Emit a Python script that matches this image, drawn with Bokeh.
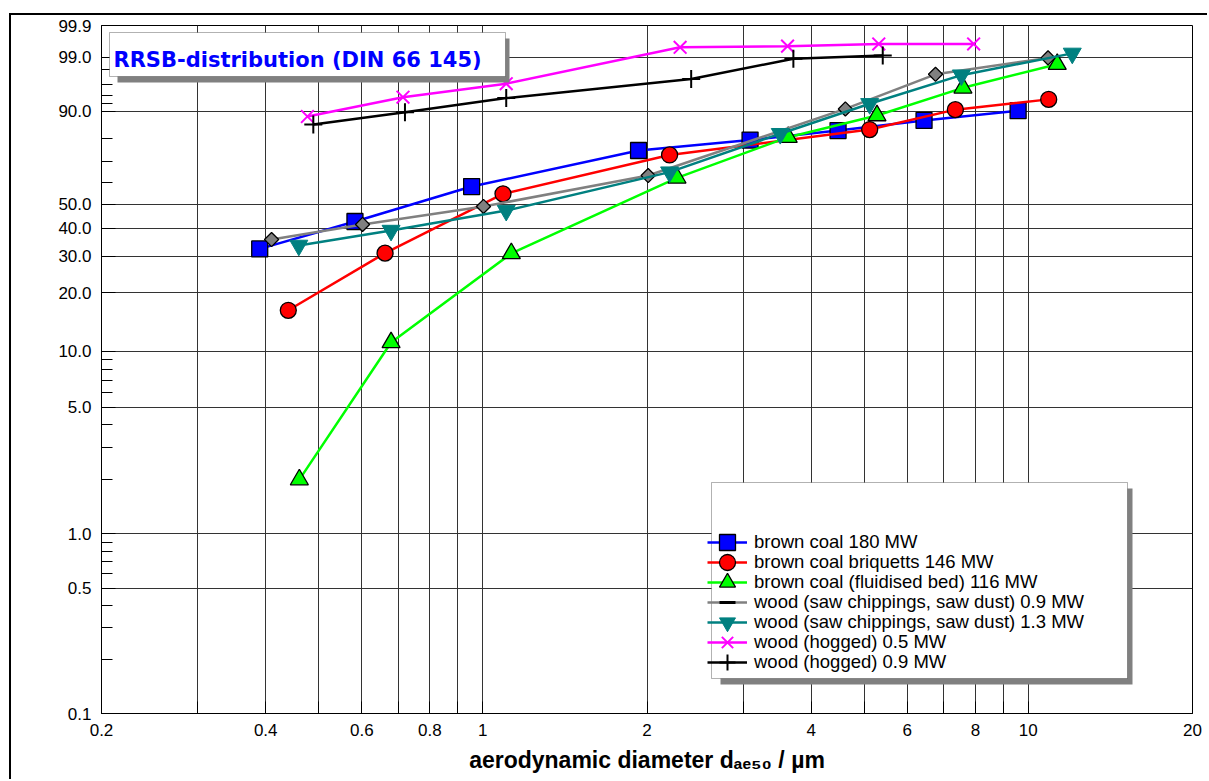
import math
import numpy as np
from bokeh.plotting import figure
from bokeh.models import (Range1d, FixedTicker, CustomJSTickFormatter, BoxAnnotation,
                          Label, Legend, LegendItem)
from bokeh.embed import file_html
from bokeh.resources import INLINE

# ---------------- data (aerodynamic diameter in µm, cumulative fraction in %) -------------
bc180_d = [0.390, 0.583, 0.954, 1.93, 3.09, 4.48, 6.44, 9.58]
bc180_F = [32.4, 42.7, 58.2, 75.0, 79.5, 83.3, 87.0, 90.1]

bri146_d = [0.440, 0.662, 1.089, 2.20, 5.12, 7.35, 10.9]
bri146_F = [16.3, 31.0, 54.8, 73.0, 83.7, 90.4, 93.1]

fb116_d = [0.461, 0.679, 1.128, 2.27, 3.63, 5.28, 7.59, 11.3]
fb116_F = [2.0, 11.1, 30.9, 62.3, 80.7, 88.6, 95.5, 98.5]

saw09_d = [0.410, 0.602, 1.003, 2.01, 4.62, 6.76, 10.87]
saw09_F = [35.7, 41.5, 49.1, 63.4, 90.6, 97.5, 98.95]

saw13_d = [0.460, 0.679, 1.104, 2.20, 3.51, 5.12, 7.54, 12.04]
saw13_F = [33.6, 39.1, 47.3, 65.0, 82.1, 92.0, 97.4, 99.2]

hog05_d = [0.477, 0.714, 1.104, 2.30, 3.62, 5.32, 7.94]
hog05_F = [88.3, 93.6, 96.2, 99.46, 99.50, 99.57, 99.57]

hog09_d = [0.489, 0.720, 1.104, 2.41, 3.71, 5.41]
hog09_F = [85.6, 89.6, 93.4, 96.9, 98.9, 99.09]

labels = [
    "brown coal 180 MW",
    "brown coal briquetts 146 MW",
    "brown coal (fluidised bed) 116 MW",
    "wood (saw chippings, saw dust) 0.9 MW",
    "wood (saw chippings, saw dust) 1.3 MW",
    "wood (hogged) 0.5 MW",
    "wood (hogged) 0.9 MW",
]

x_ticks = [0.2, 0.3, 0.4, 0.5, 0.6, 0.7, 0.8, 0.9, 1, 2, 3, 4, 5, 6, 7, 8, 9, 10, 20]
x_tick_labels = [0.2, 0.4, 0.6, 0.8, 1, 2, 4, 6, 8, 10, 20]
x_grid = [0.3, 0.4, 0.5, 0.6, 0.7, 0.8, 0.9, 1, 2, 3, 4, 5, 6, 7, 8, 9, 10]
y_label_F = [0.1, 0.5, 1.0, 5.0, 10.0, 20.0, 30.0, 40.0, 50.0, 90.0, 99.0, 99.9]
y_minor_F = [0.2, 0.3, 0.4, 0.6, 0.7, 0.8, 0.9, 2, 3, 4, 6, 7, 8, 9, 60, 70, 80, 92, 94, 96, 98]
y_grid_F = [0.5, 1.0, 5.0, 10.0, 20.0, 30.0, 40.0, 50.0, 90.0, 99.0]


def rrsb(F):
    """RRSB (Weibull) probability scale: log10(-ln(1 - F))."""
    return [math.log10(-math.log(1.0 - f / 100.0)) for f in F]


p = figure(width=1198, height=766, x_axis_type="log",
           x_range=Range1d(0.2, 20),
           y_range=Range1d(rrsb([0.1])[0], rrsb([99.9])[0]),
           output_backend="svg", toolbar_location=None,
           min_border_left=90, min_border_right=17, min_border_top=10, min_border_bottom=68)
p.margin = (13, 0, 0, 9)
p.styles = {"border-left": "2px solid black", "border-top": "2px solid black"}
p.background_fill_color = "white"
p.border_fill_color = "white"
p.outline_line_color = "black"
p.outline_line_width = 1

# grid
p.xgrid.ticker = FixedTicker(ticks=x_grid)
p.ygrid.ticker = FixedTicker(ticks=rrsb(y_grid_F))
for g in (p.xgrid, p.ygrid):
    g.grid_line_color = "#333333"
    g.grid_line_width = 1

# axes
xa = p.xaxis[0]
xa.ticker = FixedTicker(ticks=x_ticks)
xa.formatter = CustomJSTickFormatter(args=dict(show=x_tick_labels), code="""
for (const s of show) { if (Math.abs(s - tick) < 1e-9) return String(s); }
return "";
""")
xa.major_tick_in = 12
xa.major_tick_out = 0
xa.minor_tick_in = 0
xa.minor_tick_out = 0
xa.major_label_standoff = 10
xa.axis_label = "aerodynamic diameter d\u2090\u2091\u2085\u2080 / µm"
xa.axis_label_text_font = "Liberation Sans"
xa.axis_label_text_font_style = "bold"
xa.axis_label_text_font_size = "23px"
xa.axis_label_text_color = "black"
xa.axis_label_standoff = 8

ya = p.yaxis[0]
ya.ticker = FixedTicker(ticks=rrsb(y_label_F), minor_ticks=rrsb(y_minor_F))
ya.formatter = CustomJSTickFormatter(code="""
const F = 100 * (1 - Math.exp(-Math.pow(10, tick)));
return F.toFixed(1);
""")
ya.major_tick_in = 14
ya.major_tick_out = 0
ya.minor_tick_in = 11
ya.minor_tick_out = 0
ya.major_label_standoff = 10

for ax in (xa, ya):
    ax.axis_line_color = "black"
    ax.major_tick_line_color = "black"
    ax.minor_tick_line_color = "black"
    ax.major_label_text_font = "Liberation Sans"
    ax.major_label_text_font_size = "17px"
    ax.major_label_text_color = "black"

# series
series = [
    (bc180_d, bc180_F, "#0000FF", dict(marker="square", size=16, fill_color="#0000FF", line_color="black", line_width=1.3)),
    (bri146_d, bri146_F, "#FF0000", dict(marker="circle", size=16, fill_color="#FF0000", line_color="black", line_width=1.3)),
    (fb116_d, fb116_F, "#00FF00", dict(marker="triangle", size=18, fill_color="#00FF00", line_color="black", line_width=1.3)),
    (saw09_d, saw09_F, "#808080", dict(marker="square", size=10, angle=math.pi / 4, fill_color="#808080", line_color="black", line_width=1.3)),
    (saw13_d, saw13_F, "#008080", dict(marker="inverted_triangle", size=18, fill_color="#008080", line_color="#008080", line_width=1)),
    (hog05_d, hog05_F, "#FF00FF", dict(marker="x", size=18, line_color="#FF00FF", line_width=2)),
    (hog09_d, hog09_F, "#000000", dict(marker="cross", size=18, line_color="#000000", line_width=2)),
]

items = []
for i, (d, F, col, mk) in enumerate(series):
    yv = rrsb(F)
    rl = p.line(d, yv, line_color=col, line_width=2.5)
    rm = p.scatter(d, yv, **mk)
    if i == 3:
        rdash = p.scatter(x=np.array([np.nan]), y=np.array([np.nan]), marker="dash",
                          size=18, line_color="black", line_width=3)
        items.append(LegendItem(label=labels[i], renderers=[rl, rdash]))
    else:
        items.append(LegendItem(label=labels[i], renderers=[rl, rm]))

S = dict(left_units="screen", right_units="screen", top_units="screen", bottom_units="screen")

# title box (screen units: x from frame left, y from frame bottom)
p.add_layout(BoxAnnotation(left=16, right=408, top=675, bottom=631, **S,
                           fill_color="#808080", fill_alpha=1, line_alpha=0))
p.add_layout(BoxAnnotation(left=8, right=404, top=681, bottom=637, **S,
                           fill_color="white", fill_alpha=1, line_color="black", line_width=1))
p.add_layout(Label(x=12, y=654, x_units="screen", y_units="screen",
                   text="RRSB-distribution (DIN 66 145)", text_font="DejaVu Sans",
                   text_font_style="bold", text_font_size="21px", text_color="#0000FF",
                   text_baseline="alphabetic", text_align="left"))

# legend box
p.add_layout(BoxAnnotation(left=619, right=1031, top=225, bottom=29, **S,
                           fill_color="#808080", fill_alpha=1, line_alpha=0))
p.add_layout(BoxAnnotation(left=610, right=1026, top=231, bottom=35, **S,
                           fill_color="white", fill_alpha=1, line_color="black", line_width=1))

common = dict(orientation="vertical", padding=0, margin=0, spacing=0,
              glyph_width=40, glyph_height=40, label_height=18, label_standoff=7,
              label_text_font="Liberation Sans", label_text_font_size="18.5px",
              label_text_color="black", background_fill_alpha=0, border_line_alpha=0)
# two interleaved legends (odd / even rows) give the tight row pitch of the original
legA = Legend(items=items[0::2], location=(606, 31), **common)
legB = Legend(items=items[1::2], location=(606, 51), **common)
p.add_layout(legA)
p.add_layout(legB)

open("out.html", "w").write(file_html(p, INLINE))
